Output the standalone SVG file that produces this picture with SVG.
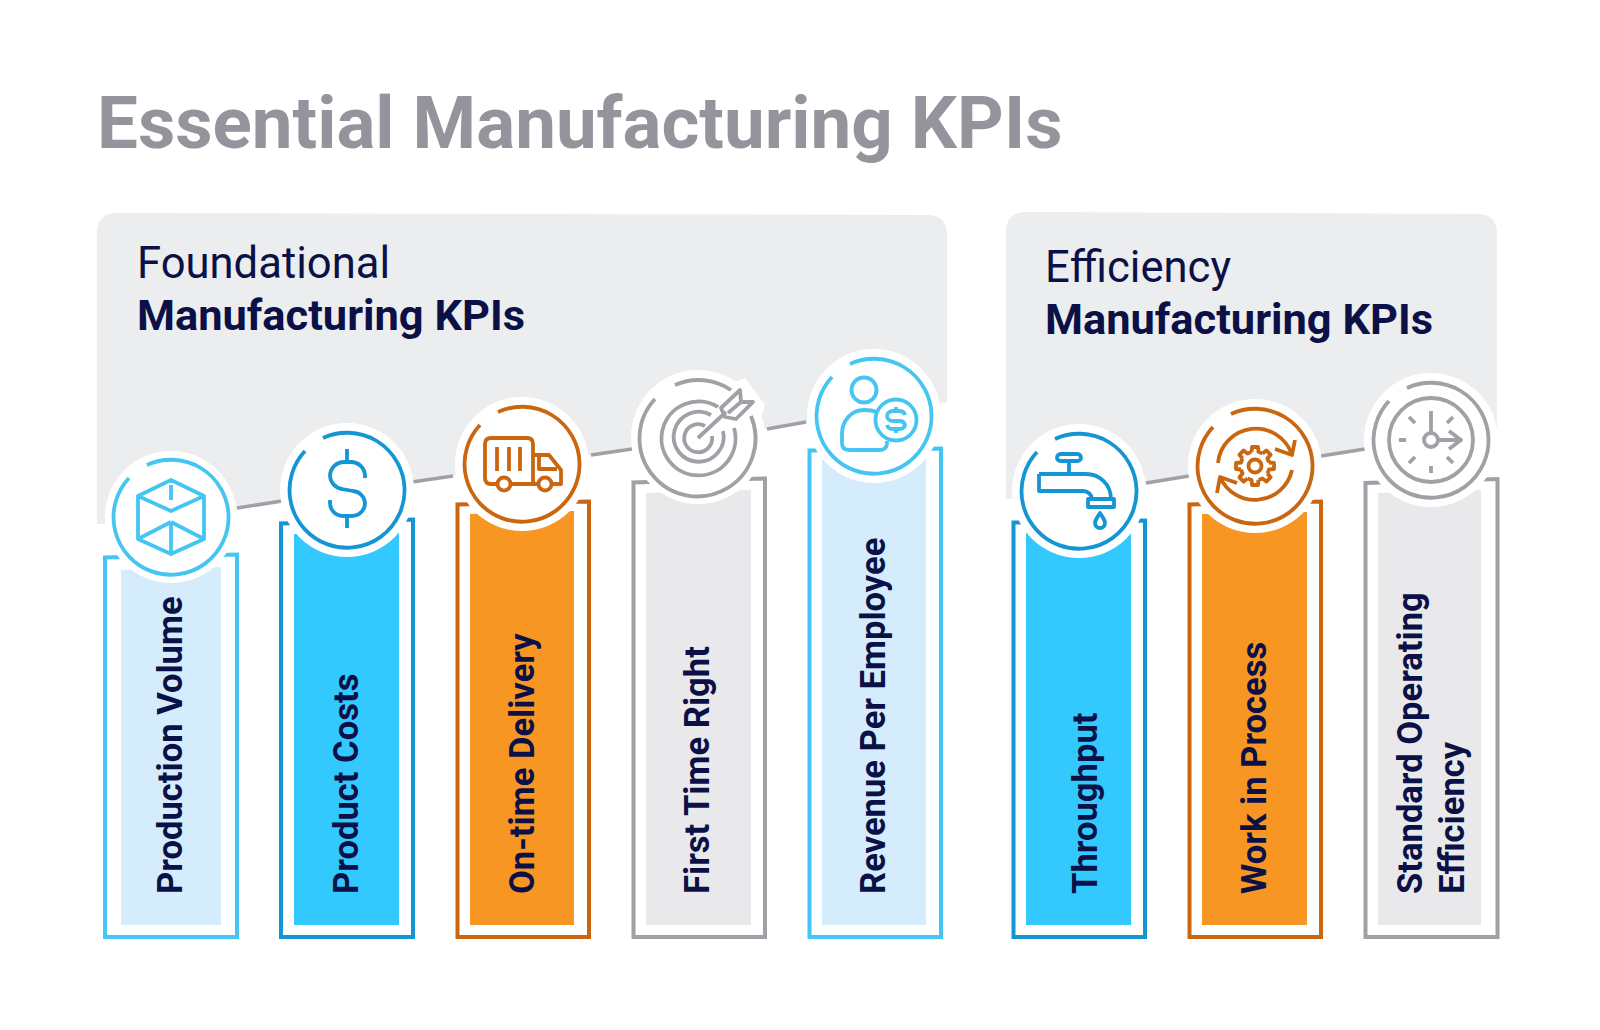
<svg xmlns="http://www.w3.org/2000/svg" width="1600" height="1030" viewBox="0 0 1600 1030">
<style>
text{font-family:Roboto,"Liberation Sans",sans-serif;fill:#0b1146}
.title{font-size:72.7px;font-weight:700;fill:#94949c}
.hl{font-size:43.6px;font-weight:400}
.hb{font-size:43.4px;font-weight:700}
.v{font-size:34.6px;font-weight:700}
.panel{fill:#ecedef}
.conn{stroke:#a0a0a6;stroke-width:3.6;fill:none}
.halo{fill:#fff}
.icon{fill:none;stroke-width:3.8;stroke-linecap:butt;stroke-linejoin:round}
.frame{fill:none;stroke-width:4;stroke-linejoin:miter}
.lb{stroke:#45c5f2}.lbf{fill:#d4ecfb}
.bl{stroke:#1496d4}.blf{fill:#33c9ff}
.or{stroke:#c9660f}.orf{fill:#f79623}
.gr{stroke:#a0a0a6}.grf{fill:#e9e9eb}
</style>
<defs>
<path id="ring" d="M-24,-52A57.500,57.500 0 1 1 -42,-39"/>
<path id="tooth" d="M-3.5,-14L-3,-19H3L3.5,-14A14.4,14.4 0 0 1 7.42,-12.37"/>
</defs>
<rect width="1600" height="1030" fill="#fff"/>
<text class="title" x="97" y="148">Essential Manufacturing KPIs</text>
<g id="panels">
<path class="panel" d="M97,524H110L237,508L947,402V235Q947,215 927,215L117,213Q97,213 97,233Z"/>
<path class="panel" d="M1006,499H1020L1146,483L1497,431V234Q1497,214 1477,214L1026,212Q1006,212 1006,232Z"/>
<text class="hl" x="137" y="278">Foundational</text>
<text class="hb" x="137" y="329.500">Manufacturing KPIs</text>
<text class="hl" x="1045" y="282">Efficiency</text>
<text class="hb" x="1045" y="333.500">Manufacturing KPIs</text>
</g>
<g id="connectors">
<path class="conn" d="M237,508L282,501M412,482L453,476M591,455L632,449M767,429L806,422M1146,483L1189,476M1321,456L1365,449"/>
</g>

<g id="production-volume">
<path class="frame lb" d="M105,557.500V937H237V554.500Z"/>
<path class="lbf" d="M121,570L221,567V925H121Z"/>
<circle class="halo" cx="171" cy="517" r="66"/>
<g class="icon lb" transform="translate(171,517)">
<use href="#ring"/>
<path d="M0,-37L33,-21V22L0,37L-33,22V-21ZM-33,-21L0,-6L33,-21M0,-32V-17M0,5V37M0,5L-33,22M0,5L33,22"/>
</g>
<text class="v" transform="translate(182,894) rotate(-90)">Production Volume</text>
</g>

<g id="product-costs">
<path class="frame bl" d="M281,523.500V937H413V519.500Z"/>
<path class="blf" d="M294,534L399,530V925H294Z"/>
<circle class="halo" cx="347" cy="490" r="67"/>
<g class="icon bl" transform="translate(347,490)">
<use href="#ring"/>
<path d="M0,-41V-28M0,26V38M18,-12V-14A14,14 0 0 0 4,-28H-3A14,14 0 0 0 -17,-14A14,14 0 0 0 -5,-1L6,1A13,13 0 0 1 18,13A13,13 0 0 1 5,26H-4A13,13 0 0 1 -17,13V10"/>
</g>
<text class="v" transform="translate(358,894) rotate(-90)">Product Costs</text>
</g>

<g id="on-time-delivery">
<path class="frame or" d="M457.500,504.500V937H589V501.500Z"/>
<path class="orf" d="M470,514L574,511V925H470Z"/>
<circle class="halo" cx="522" cy="464" r="67"/>
<g class="icon or" transform="translate(522,464)">
<use href="#ring"/>
<path d="M-24,20H-31Q-37,20 -37,14V-20Q-37,-26 -31,-26H5Q11,-26 11,-20V20H-12M29,20H39V6L27,-9H11M17,-9V5H35M17,20H11M-25,-17V7M-13,-17V7M-2,-17V7"/>
<circle cx="-18" cy="20" r="6.500"/><circle cx="23" cy="20" r="6.500"/>
</g>
<text class="v" transform="translate(534,894) rotate(-90)">On-time Delivery</text>
</g>

<g id="first-time-right">
<path class="frame gr" d="M633.500,482.500V937H765V478.500Z"/>
<path class="grf" d="M646,493L751,490V925H646Z"/>
<circle class="halo" cx="698" cy="437" r="67"/>
<path class="halo" d="M735,382L745,378L765,405L762,415L745,420Z"/>
<g class="icon gr" transform="translate(698,437)">
<path d="M-23,-52A58,58 0 0 1 33,-47M53,-21A58,58 0 1 1 -43,-38"/>
<path d="M20,-30A37,37 0 1 0 36,-9M13,-22A25,25 0 1 0 25,-6M7,-11A14,14 0 1 0 14,-1"/>
<path d="M0,1L28,-25M23,-29L42,-47L43,-35L55,-35L38,-18L27,-20ZM30,-24L43,-35"/>
</g>
<text class="v" transform="translate(709,894) rotate(-90)">First Time Right</text>
</g>

<g id="revenue-per-employee">
<path class="frame lb" d="M809.500,450.500V937H941V448.500Z"/>
<path class="lbf" d="M822,460L926,458V925H822Z"/>
<circle class="halo" cx="874" cy="416" r="67"/>
<g class="icon lb" transform="translate(874,416)">
<use href="#ring"/>
<circle cx="-10" cy="-26" r="12.500"/>
<path d="M2,-4C-2,-6 -6,-6 -10,-6C-23,-6 -32,5 -32,18V27Q-32,34 -25,34H6Q13,34 13,27V25"/>
<circle cx="22" cy="4" r="20.500"/>
<path d="M22,-9V-5M22,13V17M31,-1A6,5 0 0 0 25,-5H19A6,5 0 0 0 13,0A6,5 0 0 0 19,5H25A6,5 0 0 1 31,9A6,5 0 0 1 25,13H19A6,5 0 0 1 13,9"/>
</g>
<text class="v" transform="translate(885,894) rotate(-90)">Revenue Per Employee</text>
</g>

<g id="throughput">
<path class="frame bl" d="M1013.500,522.500V937H1145V520.500Z"/>
<path class="blf" d="M1026,533L1131,531V925H1026Z"/>
<circle class="halo" cx="1079" cy="491" r="67"/>
<g class="icon bl" transform="translate(1079,491)">
<use href="#ring"/>
<rect x="-22" y="-37" width="24" height="7" rx="3.500"/>
<path d="M-10,-30V-18M-40,-17H7C20,-17 32,-7 32,8M-40,-17V0H4C9,0 13,4 13,8"/>
<rect x="9" y="8" width="26" height="8"/>
<path d="M21,22C18,27 16,29 16,32A5,5 0 0 0 26,32C26,29 24,27 21,22Z"/>
</g>
<text class="v" transform="translate(1097,894) rotate(-90)">Throughput</text>
</g>

<g id="work-in-process">
<path class="frame or" d="M1189.500,504.500V937H1321V501.500Z"/>
<path class="orf" d="M1202,514L1307,512V925H1202Z"/>
<circle class="halo" cx="1255" cy="466" r="67"/>
<g class="icon or" transform="translate(1255,466)">
<use href="#ring"/>
<path d="M-37,-3A38,38 0 0 1 37,-11M40,-26L37,-11L20,-17M37,4A38,38 0 0 1 -35,11M-38,27L-35,11L-18,17"/>
<circle r="6.500"/>
<use href="#tooth"/><use href="#tooth" transform="rotate(45)"/><use href="#tooth" transform="rotate(90)"/><use href="#tooth" transform="rotate(135)"/><use href="#tooth" transform="rotate(180)"/><use href="#tooth" transform="rotate(225)"/><use href="#tooth" transform="rotate(270)"/><use href="#tooth" transform="rotate(315)"/>
</g>
<text class="v" transform="translate(1266,894) rotate(-90)">Work in Process</text>
</g>

<g id="standard-operating-efficiency">
<path class="frame gr" d="M1365.500,483V937H1497.500V479Z"/>
<path class="grf" d="M1378,493L1481,490V925H1378Z"/>
<circle class="halo" cx="1431" cy="440" r="67"/>
<g class="icon gr" transform="translate(1431,440)">
<use href="#ring"/>
<circle r="42"/>
<circle r="7"/>
<path d="M0,-29V-7M7,0H30M18,-9L30,0L18,9M-32,0H-25M0,26V33M-22,-23L-16,-17M22,-23L16,-17M-22,23L-16,17M22,23L16,17"/>
</g>
<text class="v" transform="translate(1422,894) rotate(-90)">Standard Operating</text>
<text class="v" transform="translate(1464,894) rotate(-90)">Efficiency</text>
</g>
</svg>
